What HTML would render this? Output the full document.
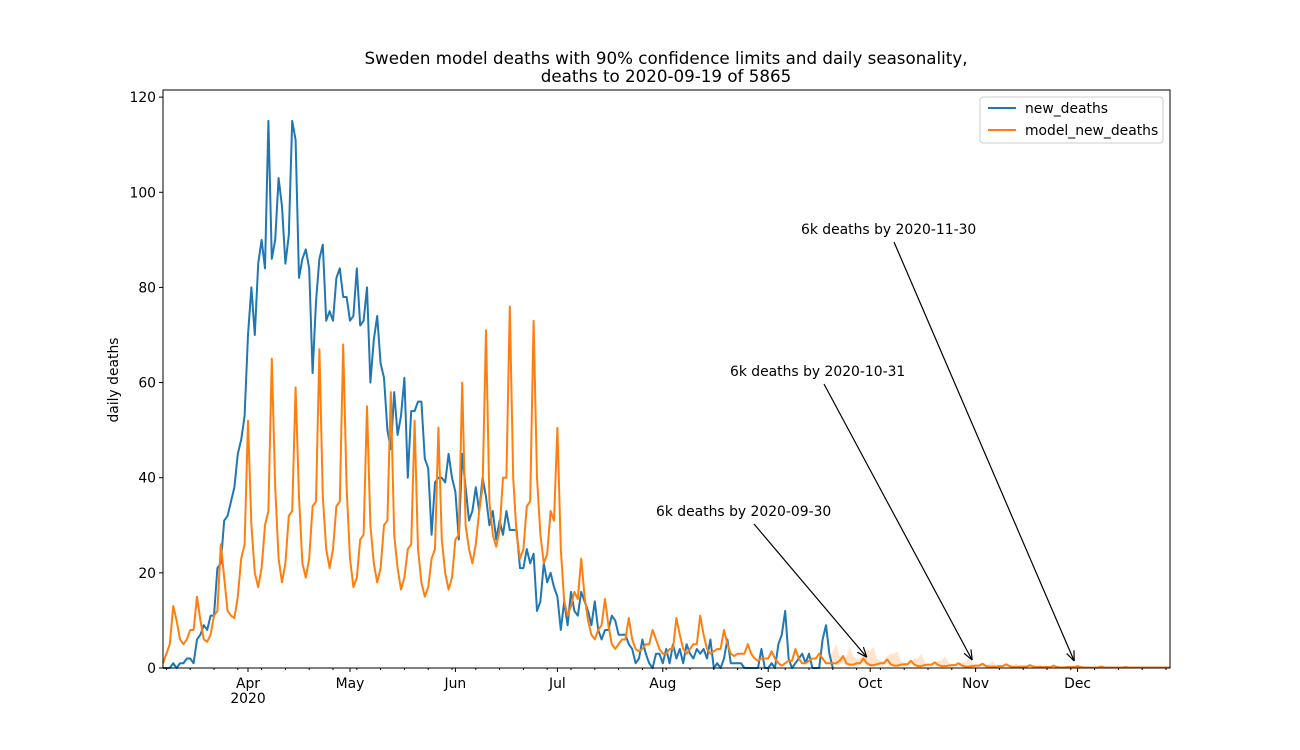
<!DOCTYPE html>
<html><head><meta charset="utf-8"><style>
body{margin:0;background:#fff}
svg{display:block;font-family:"DejaVu Sans","Liberation Sans",sans-serif}
</style></head><body>
<svg id="chart" width="1300" height="750" viewBox="0 0 1300 750">
<defs><marker id="ah" viewBox="0 0 10 10" refX="10" refY="5" markerWidth="10" markerHeight="10" orient="auto" markerUnits="userSpaceOnUse"><path d="M0,1 L10,5 L0,9" fill="none" stroke="#000" stroke-width="1.2"/></marker></defs>
<rect width="1300" height="750" fill="#fff"/>
<text x="666" y="64" text-anchor="middle" font-size="16.7">Sweden model deaths with 90% confidence limits and daily seasonality,</text>
<text x="666" y="82" text-anchor="middle" font-size="16.7">deaths to 2020-09-19 of 5865</text>
<g id="band"></g>
<g id="series"></g>
<g id="axes"></g>
<text transform="translate(118,380) rotate(-90)" text-anchor="middle" font-size="13.9">daily deaths</text>
<g id="annots"></g>
<g>
<rect x="980" y="97" width="183" height="46" fill="#fff" stroke="#ccc" rx="3"/>
<g><line x1="988" y1="108" x2="1016" y2="108" stroke="#1f77b4" stroke-width="2"/><text x="1025" y="113" font-size="13.9">new_deaths</text></g>
<g><line x1="988" y1="130" x2="1016" y2="130" stroke="#ff7f0e" stroke-width="2"/><text x="1025" y="135" font-size="13.9">model_new_deaths</text></g>
</g>
</svg>
<script>
// day 0 = 2020-03-07
const startLabel = "2020-03-07";
const newDeaths = [0,0,0,1,0,1,1,2,2,1,6,7,9,8,11,
11,21,22,31,32,35,38,45,48,53,70,
80,70,85,90,84,115,86,90,103,97,85,91,115,111,82,86,88,84,62,77,86,89,73,75,73,82,84,78,78,73,
74,84,72,73,80,60,69,74,64,61,50,46,58,49,53,61,40,54,54,56,56,44,42,28,39,40,40,39,45,40,37,
27,45,38,31,33,38,33,40,36,30,33,27,31,28,33,29,29,29,21,21,25,22,24,12,14,22,18,20,17,15,
8,14,9,16,12,11,16,14,12,9,14,8,6,8,8,11,10,7,7,7,5,4,1,2,6,3,1,0,3,3,1,
4,1,5,2,4,1,5,3,2,4,3,4,2,6,0,1,0,2,6,1,1,1,1,0,0,0,0,0,4,0,0,
1,0,5,7,12,2,0,1,2,3,1,3,0,0,0,6,9,3,0];
const modelDeaths = [1,3,5,13,10,6,5, 6,8,8,15,10,6,5.5, 7,11,12,26,19,12,11, 10.5,15,23,26,
52,30,20,17,21,30,33,65,38,23,18,22,32,33,59,36,22,19,23,34,35,67,36,25,21,25,34,35,68,38,
23,17,19,27,28,55,30,22,18,21,30,31,58,28,21,16.5,19,25,26,52,25,18,15,17,23,25,50.5,27,20,16.5,19,
27,28,60,30,25,22,26,33,38,71,35,28,25.5,29,40,40,76,40,28,23,25,34,35,73,40,28,22,24,33,31,
50.5,25,14,11,13,16,14.5,23,15,10,7,6,8,9,14.5,9,5,4,5,6,6,10.5,6,4,3.5,4,5,5,8,6,4,
3,3,4,4,10.5,7,4,3,4,5,5,11,7,4,3,3.5,4,4,8,5,3,2.5,3,3,3,5,3,2,1.5,2,2,
2,3.5,2,1,0.5,1,1.5,1.5,4,2,1,1,1.5,2,2,3,2,1,1,1,1,1.5,2.5,1,0.7,0.7,1,1,2,1,
0.6,0.6,0.8,1,1,1.8,0.8,0.5,0.5,0.7,0.8,0.8,1.5,0.7,0.4,0.4,0.6,0.7,0.7,1.2,0.6,0.4,0.4,0.5,0.6,0.6,1,0.5,0.3,0.3,0.4,
0.5,0.5,0.9,0.4,0.3,0.3,0.3,0.4,0.4,0.8,0.4,0.2,0.2,0.3,0.3,0.3,0.6,0.3,0.2,0.2,0.2,0.2,0.2,0.5,0.2,0.1,0.1,0.2,0.2,0.2,
0.4,0.2,0.1,0.1,0.1,0.1,0.1,0.3,0.1,0.1,0.1,0.1,0.1,0.1,0.2,0.1,0.1,0.1,0.1,0.1,0.1,0.1,0.1,0.1,0.1,0.1,0.1,0.1];
const bandStartDay = 196;
const bandUpper = [2,3.5,5,2.5,2,2.5,4.5,2.5,2,2,3,4,3.5,4.5,2,1.5,1.5,2.5,3,3,3.5,1.5,1,1,1.5,2,2,3,1.3,0.8,0.8,1.2,1.5,1.5,2.5,1.2,0.7,0.7,1,1.2,1.2,2,1,0.6,0.6,0.8,0.8,0.8,1.5,0.7,0.4,0.4,0.5,0.5,0.5,1,0.5,0.3,0.3,0.4,0.4,0.4,0.8,0.4,0.2,0.2,0.3,0.3,0.3,0.5,0.2,0.15,0.15,0.2,0.2,0.2,0.4,0.2,0.1,0.1,0.1,0.1,0.1,0.25,0.1,0.1,0.1,0.1,0.1,0.1,0.2,0.1,0.1,0.1,0.1,0.1,0.1,0.1];
const yTicks = [0,20,40,60,80,100,120];
const monthLabels = ["Apr","May","Jun","Jul","Aug","Sep","Oct","Nov","Dec"];
const monthDays = [25,55,86,116,147,178,208,239,269];
const annotTexts = ["6k deaths by 2020-09-30","6k deaths by 2020-10-31","6k deaths by 2020-11-30"];
const annotTargetDays = [207,238,268];

const L=163,R=1170,T=90,B=668,yMax=121.5,dayPx=3.4;
const X=d=>L+d*dayPx, Y=v=>B-v*(B-T)/yMax;
const NS="http://www.w3.org/2000/svg";
function mk(t,a,p){const e=document.createElementNS(NS,t);for(const k in a)e.setAttribute(k,a[k]);p.appendChild(e);return e;}

const band=document.getElementById('band');
let up=bandUpper.map((v,i)=>X(bandStartDay+i)+','+Y(v));
let lo=bandUpper.map((v,i)=>X(bandStartDay+i)+','+Y(Math.min(v,modelDeaths[bandStartDay+i]||0)*0.5)).reverse();
const bp=mk('polygon',{points:up.concat(lo).join(' '),fill:'#ff7f0e','fill-opacity':'0.2'},band);



const s=document.getElementById('series');
const lb=mk('polyline',{points:newDeaths.map((v,i)=>X(i)+','+Y(v)).join(' '),fill:'none',stroke:'#1f77b4','stroke-width':2,'stroke-linejoin':'round'},s);


const lo2=mk('polyline',{points:modelDeaths.map((v,i)=>X(i)+','+Y(v)).join(' '),fill:'none',stroke:'#ff7f0e','stroke-width':2,'stroke-linejoin':'round'},s);



const ax=document.getElementById('axes');
const fr=mk('rect',{x:L,y:T,width:R-L,height:B-T,fill:'none',stroke:'#000','stroke-width':1},ax);


yTicks.forEach(v=>{const y=Y(v);mk('line',{x1:L-4,x2:L,y1:y,y2:y,stroke:'#000'},ax);
const t=mk('text',{x:L-7,y:y+5,'text-anchor':'end','font-size':13.9},ax);t.textContent=v;

});
for(let d=1;X(d)<R;d+=7)mk('line',{x1:X(d),x2:X(d),y1:B,y2:B+2,stroke:'#000'},ax);
monthDays.forEach((d,i)=>{const x=X(d);mk('line',{x1:x,x2:x,y1:B,y2:B+4,stroke:'#000'},ax);
const t=mk('text',{x:x,y:B+20,'text-anchor':'middle','font-size':13.9},ax);t.textContent=monthLabels[i];

});
const yr=mk('text',{x:X(monthDays[0]),y:B+35,'text-anchor':'middle','font-size':13.9},ax);yr.textContent='2020';



const an=document.getElementById('annots');
const textPos=[[656,516,754,524],[730,376,824,384],[801,234,894,242]];
annotTexts.forEach((s2,i)=>{const g=mk('g',{},an);


const t=mk('text',{x:textPos[i][0],y:textPos[i][1],'font-size':13.9},g);t.textContent=s2;
const d=annotTargetDays[i];
mk('line',{x1:textPos[i][2],y1:textPos[i][3],x2:X(d),y2:Y(modelDeaths[d])-6,stroke:'#000','stroke-width':1.2,'marker-end':'url(#ah)'},g);});
</script>
</body></html>
